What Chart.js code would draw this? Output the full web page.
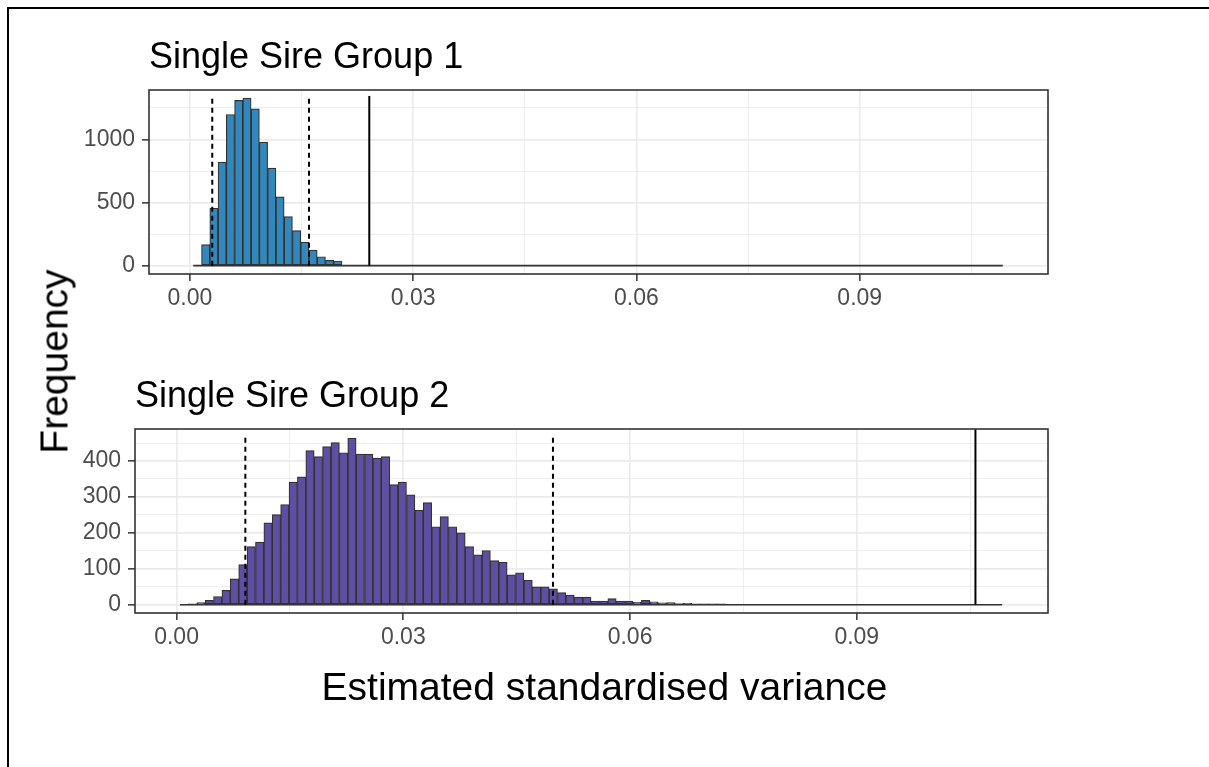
<!DOCTYPE html>
<html>
<head>
<meta charset="utf-8">
<script src="https://cdn.jsdelivr.net/npm/chart.js@4.4.1/dist/chart.umd.min.js"></script>
<style>
  body { margin: 0; background: #fff; width: 1209px; height: 767px; overflow: hidden; position: relative;
         font-family: "Liberation Sans", Arial, sans-serif; }
  .frame { position: absolute; left: 7px; top: 7px; width: 1300px; height: 900px;
           border-left: 2px solid #000; border-top: 2px solid #000; }
  .panel { position: absolute; left: 0; width: 1209px; height: 330px; }
  #xTitle { position: absolute; left: 0; top: 667px; width: 1209px; text-align: center;
            font-size: 39px; line-height: 39px; color: #000; }
  #yTitle { position: absolute; left: -96px; top: 342px; width: 300px; height: 39px; text-align: center;
            font-size: 39px; line-height: 39px; color: #000; transform: rotate(-90deg); }
</style>
</head>
<body>
<div class="frame"></div>
<div class="panel" style="top:0"><canvas id="group1" width="1209" height="330"></canvas></div>
<div class="panel" style="top:339px"><canvas id="group2" width="1209" height="330"></canvas></div>
<div id="xTitle">Estimated standardised variance</div>
<div id="yTitle">Frequency</div>
<script>
// histogram bins shared by both groups
const binStart = 0.00045;
const binWidth = 0.00111;
const binCount = 98;

// counts per bin, starting at bin 0 (remaining bins are empty)
const group1Counts = [0, 167, 455, 820, 1198, 1310, 1328, 1243, 979, 773, 545, 389, 278, 185, 124, 71, 42, 37];
const group1Interval = [0.0030, 0.0160];
const group1Estimate = 0.0241;
const group1LineTops = [1345, 1345, 1345];

const group2Counts = [0, 2, 6, 12, 23, 40, 72, 112, 162, 174,
  228, 251, 279, 341, 356, 429, 412, 440, 451, 423,
  463, 419, 419, 408, 412, 334, 341, 306, 263, 284,
  217, 245, 217, 200, 162, 139, 151, 123, 118, 83,
  89, 68, 50, 50, 44, 34, 27, 21, 21, 10,
  10, 17, 10, 10, 7, 12, 8, 5, 6, 3,
  4, 2, 1, 1, 2];
const group2Interval = [0.0091, 0.0498];
const group2Estimate = 0.1057;
const group2LineTops = [470, 470, 489];

const xTicks = [0, 0.015, 0.03, 0.045, 0.06, 0.075, 0.09, 0.105];
const xLabelled = [0, 0.03, 0.06, 0.09];
const yTicks1 = [0, 250, 500, 750, 1000, 1250];
const yLabelled1 = [0, 500, 1000];
const yTicks2 = [0, 50, 100, 150, 200, 250, 300, 350, 400, 450];
const yLabelled2 = [0, 100, 200, 300, 400];

const FONT = '"Liberation Sans", Arial, sans-serif';
const GRID = '#EBEBEB';
const INK = '#333333';

const isMajor = (v, list) => list.some(m => Math.abs(m - v) < 1e-9);

// box around the plotting area, like theme_bw
const panelBorder = {
  id: 'panelBorder',
  afterDatasetsDraw(chart) {
    const a = chart.chartArea, c = chart.ctx;
    c.save();
    c.strokeStyle = INK;
    c.lineWidth = 1.6;
    c.strokeRect(a.left, a.top, a.right - a.left, a.bottom - a.top);
    c.restore();
  }
};

function vline(x, top, dashed) {
  return {
    type: 'line',
    data: [{x: x, y: 0}, {x: x, y: top}],
    borderColor: '#000',
    borderWidth: 2,
    borderDash: dashed ? [5, 4] : [],
    pointRadius: 0,
    order: 1
  };
}

function makePanel(id, title, counts, fill, interval, estimate, lineTops, yTicks, yLabelled, yMin, yMax, leftWidth) {
  const bars = counts.map((n, i) => ({x: binStart + (i + 0.5) * binWidth, y: n}));
  const baseline = [{x: binStart, y: 0}, {x: binStart + binCount * binWidth, y: 0}];

  new Chart(document.getElementById(id), {
    type: 'bar',
    data: {
      datasets: [
        vline(interval[0], lineTops[0], true),
        vline(interval[1], lineTops[1], true),
        vline(estimate, lineTops[2], false),
        {
          type: 'line', data: baseline, borderColor: INK, borderWidth: 1.6,
          pointRadius: 0, order: 2
        },
        {
          type: 'bar', data: bars, backgroundColor: fill, borderColor: INK,
          borderWidth: 1.2, borderSkipped: false,
          barPercentage: 1, categoryPercentage: 1, order: 3
        }
      ]
    },
    options: {
      responsive: false,
      animation: false,
      layout: { padding: { left: 0, right: 161, top: 0, bottom: 0 } },
      plugins: {
        legend: { display: false },
        tooltip: { enabled: false },
        title: {
          display: true, text: title, align: 'start', fullSize: false, color: '#000',
          font: { family: FONT, size: 36, weight: 'normal', lineHeight: 1.2 },
          padding: { top: 36, bottom: 10.8 }
        }
      },
      scales: {
        x: {
          type: 'linear', min: -0.0055, max: 0.1153, offset: false,
          afterBuildTicks: axis => { axis.ticks = xTicks.map(v => ({value: v})); },
          afterFit: axis => { axis.height = 56; },
          border: { display: false },
          grid: {
            offset: false,
            color: GRID,
            lineWidth: ctx => isMajor(ctx.tick.value, xLabelled) ? 1.7 : 0.9,
            tickColor: ctx => isMajor(ctx.tick.value, xLabelled) ? INK : 'rgba(0,0,0,0)',
            tickLength: 7, tickWidth: 1.5
          },
          ticks: {
            autoSkip: false, maxRotation: 0, padding: 4, color: '#4D4D4D',
            font: { family: FONT, size: 23 },
            callback: v => isMajor(v, xLabelled) ? v.toFixed(2) : ''
          }
        },
        y: {
          type: 'linear', min: yMin, max: yMax,
          afterBuildTicks: axis => { axis.ticks = yTicks.map(v => ({value: v})); },
          afterFit: axis => { axis.width = leftWidth; },
          border: { display: false },
          grid: {
            color: GRID,
            lineWidth: ctx => isMajor(ctx.tick.value, yLabelled) ? 1.7 : 0.9,
            tickColor: ctx => isMajor(ctx.tick.value, yLabelled) ? INK : 'rgba(0,0,0,0)',
            tickLength: 7, tickWidth: 1.5
          },
          ticks: {
            autoSkip: false, padding: 7, color: '#4D4D4D',
            font: { family: FONT, size: 23 },
            callback: v => isMajor(v, yLabelled) ? String(v) : ''
          }
        }
      }
    },
    plugins: [panelBorder]
  });
}

makePanel('group1', 'Single Sire Group 1', group1Counts, '#3288BD',
  group1Interval, group1Estimate, group1LineTops, yTicks1, yLabelled1, -66, 1392, 149);
makePanel('group2', 'Single Sire Group 2', group2Counts, '#5E4FA2',
  group2Interval, group2Estimate, group2LineTops, yTicks2, yLabelled2, -23, 489, 135);
</script>
</body>
</html>
